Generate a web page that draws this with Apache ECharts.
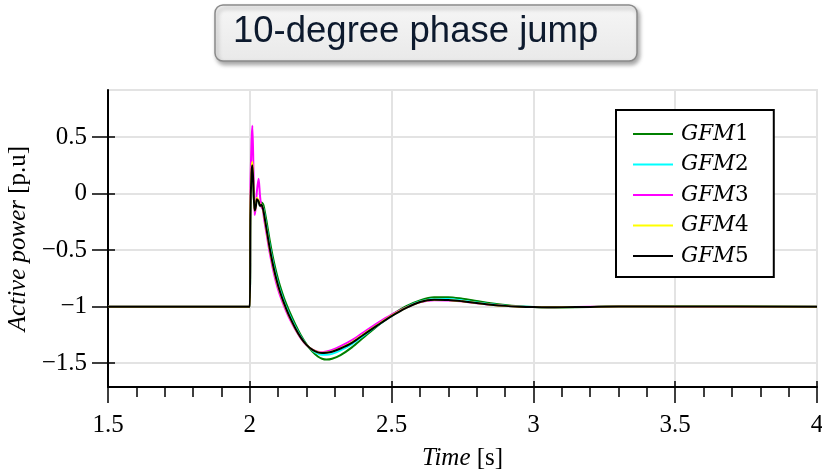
<!DOCTYPE html>
<html>
<head>
<meta charset="utf-8">
<script src="https://cdn.jsdelivr.net/npm/echarts@6/dist/echarts.min.js"></script>
<style>
html,body{margin:0;padding:0;background:#fff;}
#chart{width:822px;height:474px;}
</style>
</head>
<body>
<div id="chart"></div>
<script>
// Time samples [s]
const TIME = [1.5, 1.99, 2.0, 2.002, 2.006, 2.009, 2.013, 2.017, 2.021, 2.025, 2.031, 2.036, 2.041, 2.046, 2.05,
  2.06, 2.07, 2.08, 2.09, 2.10, 2.11, 2.12, 2.13, 2.14, 2.16, 2.18, 2.20, 2.22, 2.24, 2.255, 2.27, 2.29, 2.32, 2.36,
  2.40, 2.45, 2.50, 2.55, 2.60, 2.65, 2.70, 2.75, 2.80, 2.85, 2.90, 2.95, 3.0, 3.05, 3.1, 3.2, 3.3, 3.5, 4.0];

const SERIES_NAMES = ['GFM1', 'GFM2', 'GFM3', 'GFM4', 'GFM5'];
const SERIES_COLORS = ['#008000', '#00ffff', '#ff00ff', '#ffff00', '#000000'];

// Active power [p.u]
const GFM1 = [-1, -1, -1, -0.25, 0.15, 0.22, 0.03, -0.13, -0.11, -0.06, -0.07, -0.08, -0.08, -0.09, -0.12,
  -0.26, -0.41, -0.545, -0.66, -0.76, -0.845, -0.92, -0.985, -1.045, -1.155, -1.252, -1.332, -1.395, -1.44, -1.46, -1.467, -1.46, -1.428, -1.36,
  -1.275, -1.17, -1.075, -0.998, -0.945, -0.917, -0.916, -0.93, -0.95, -0.97, -0.986, -0.997, -1.004, -1.007, -1.006, -1.002, -0.997, -0.998, -1.0];
const GFM2 = [-1, -1, -1, -0.2, 0.17, 0.24, 0.05, -0.14, -0.11, -0.05, -0.07, -0.1, -0.1, -0.12, -0.162,
  -0.309, -0.459, -0.59, -0.702, -0.799, -0.88, -0.952, -1.015, -1.074, -1.178, -1.267, -1.336, -1.385, -1.415, -1.425, -1.425, -1.417, -1.387, -1.332,
  -1.257, -1.166, -1.081, -1.008, -0.954, -0.932, -0.933, -0.945, -0.963, -0.979, -0.991, -0.999, -1.004, -1.006, -1.005, -1.002, -0.998, -0.999, -1.0];
const GFM3 = [-1, -1, -1, 0.0, 0.45, 0.60, 0.2, -0.19, -0.12, 0.02, 0.13, -0.02, -0.12, -0.14, -0.22,
  -0.37, -0.52, -0.65, -0.76, -0.85, -0.925, -0.99, -1.05, -1.105, -1.2, -1.28, -1.34, -1.378, -1.398, -1.402, -1.396, -1.382, -1.35, -1.296,
  -1.228, -1.145, -1.07, -1.008, -0.962, -0.944, -0.945, -0.955, -0.969, -0.983, -0.993, -1.0, -1.004, -1.005, -1.004, -1.001, -0.999, -1.0, -1.0];
const GFM4 = [-1, -1, -1, -0.15, 0.2, 0.28, 0.06, -0.15, -0.12, -0.04, -0.06, -0.1, -0.1, -0.13, -0.188,
  -0.338, -0.488, -0.618, -0.728, -0.822, -0.901, -0.97, -1.032, -1.09, -1.19, -1.275, -1.338, -1.38, -1.403, -1.408, -1.405, -1.395, -1.366, -1.315,
  -1.246, -1.161, -1.08, -1.011, -0.959, -0.939, -0.941, -0.953, -0.968, -0.982, -0.993, -1.0, -1.004, -1.006, -1.005, -1.002, -0.999, -0.999, -1.0];
const GFM5 = [-1, -1, -1, -0.2, 0.18, 0.25, 0.05, -0.15, -0.12, -0.05, -0.07, -0.11, -0.1, -0.13, -0.18,
  -0.33, -0.48, -0.61, -0.72, -0.815, -0.895, -0.965, -1.028, -1.086, -1.188, -1.274, -1.338, -1.38, -1.404, -1.41, -1.407, -1.398, -1.37, -1.32,
  -1.25, -1.165, -1.083, -1.012, -0.958, -0.938, -0.94, -0.952, -0.968, -0.982, -0.993, -1.0, -1.004, -1.006, -1.005, -1.002, -0.999, -0.999, -1.0];

const VALUES = [GFM1, GFM2, GFM3, GFM4, GFM5];
const Y_TICKS = [-1.5, -1, -0.5, 0, 0.5];
const TITLE_TEXT = '10-degree phase jump';

const chart = echarts.init(document.getElementById('chart'), null, {renderer: 'canvas'});
const serif = 'Liberation Serif';
const fmtY = v => (v < 0 ? '\u2212' : '') + Math.abs(v);

const series = SERIES_NAMES.map((name, k) => ({
  name: name,
  type: 'line',
  xAxisIndex: 0,
  yAxisIndex: 0,
  data: TIME.map((t, i) => [t, VALUES[k][i]]),
  showSymbol: false,
  symbol: 'none',
  smooth: 0.3,
  color: SERIES_COLORS[k],
  lineStyle: {color: SERIES_COLORS[k], width: 2},
  z: 3 + k
}));

const option = {
  animation: false,
  backgroundColor: '#fff',
  title: {
    text: TITLE_TEXT,
    left: 215, top: 5,
    padding: [9, 39, 11, 18],
    backgroundColor: new echarts.graphic.LinearGradient(0, 0, 0, 1, [
      {offset: 0, color: '#f6f6f6'}, {offset: 1, color: '#e9e9e9'}]),
    borderColor: '#8a8a8a', borderWidth: 1.5, borderRadius: 8,
    shadowColor: 'rgba(0,0,0,0.35)', shadowBlur: 4, shadowOffsetX: 2, shadowOffsetY: 3,
    textStyle: {fontFamily: 'Liberation Sans', fontSize: 36.5, fontWeight: 'normal', color: '#0d1a2e', lineHeight: 36}
  },
  legend: {
    data: SERIES_NAMES,
    orient: 'vertical',
    left: 616, top: 110,
    padding: [13, 25, 10, 17],
    itemGap: 8.5,
    itemWidth: 40, itemHeight: 2,
    icon: 'rect',
    borderColor: '#000', borderWidth: 2,
    backgroundColor: '#fff',
    formatter: name => '{i|GFM}{n|' + name.slice(3) + '}',
    textStyle: {
      padding: [0, 0, 0, 3],
      lineHeight: 22,
      rich: {
        i: {fontFamily: 'DejaVu Serif', fontStyle: 'italic', fontSize: 21.5, color: '#000', lineHeight: 22},
        n: {fontFamily: 'DejaVu Serif', fontSize: 21.5, color: '#000', lineHeight: 22}
      }
    }
  },
  grid: {
    left: 108, right: 5, top: 90, bottom: 87,
    outerBoundsMode: 'none',
    containLabel: false,
    show: true, borderColor: '#e3e3e3', borderWidth: 2, backgroundColor: 'transparent'
  },
  xAxis: [{
    type: 'value', min: 1.5, max: 4, interval: 0.5, position: 'bottom',
    axisLine: {show: true, onZero: false, lineStyle: {color: '#000', width: 2}},
    axisTick: {show: true, inside: false, length: 16, lineStyle: {color: '#000', width: 1.5}},
    minorTick: {show: true, splitNumber: 5, length: 10, lineStyle: {color: '#000', width: 1.5}},
    axisLabel: {fontFamily: serif, fontSize: 25, color: '#000', margin: 26, showMinLabel: true, showMaxLabel: true},
    splitLine: {show: true, lineStyle: {color: '#e3e3e3', width: 2}},
    name: '{i|Time} [s]', nameLocation: 'middle', nameGap: 59,
    nameTextStyle: {fontFamily: serif, fontSize: 25, color: '#000',
      rich: {i: {fontFamily: serif, fontStyle: 'italic', fontSize: 25, color: '#000'}}}
  }, {
    type: 'value', min: 1.5, max: 4, interval: 0.5, position: 'bottom',
    axisLine: {show: false, onZero: false},
    axisTick: {show: true, inside: true, length: 6, lineStyle: {color: '#000', width: 1.5}},
    axisLabel: {show: false},
    splitLine: {show: false}
  }],
  yAxis: [{
    type: 'value', min: -1.71, max: 0.915, position: 'left',
    axisLine: {show: true, onZero: false, lineStyle: {color: '#000', width: 2}},
    axisTick: {show: true, inside: false, length: 16, customValues: Y_TICKS, lineStyle: {color: '#000', width: 1.5}},
    axisLabel: {customValues: Y_TICKS, formatter: fmtY, fontFamily: serif, fontSize: 25, color: '#000', margin: 21},
    splitLine: {show: true, lineStyle: {color: '#e3e3e3', width: 2}},
    name: '{i|Active power} [p.u]', nameLocation: 'middle', nameGap: 77,
    nameTextStyle: {fontFamily: serif, fontSize: 25, color: '#000',
      rich: {i: {fontFamily: serif, fontStyle: 'italic', fontSize: 25, color: '#000'}}}
  }, {
    type: 'value', min: -1.71, max: 0.915, position: 'left',
    axisLine: {show: false, onZero: false},
    axisTick: {show: true, inside: true, length: 7, customValues: Y_TICKS, lineStyle: {color: '#000', width: 1.5}},
    axisLabel: {show: false, customValues: Y_TICKS},
    splitLine: {show: false}
  }],
  series: series
};
chart.setOption(option);
</script>
</body>
</html>
